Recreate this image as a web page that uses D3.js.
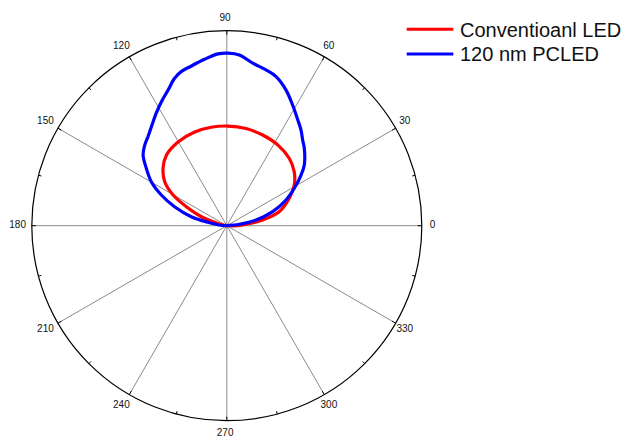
<!DOCTYPE html>
<html>
<head>
<meta charset="utf-8">
<script src="https://cdn.jsdelivr.net/npm/d3@7"></script>
<style>
  html, body { margin: 0; padding: 0; background: #fff; }
  svg { display: block; }
  text { font-family: "Liberation Sans", Arial, Helvetica, sans-serif; fill: #111; }
</style>
</head>
<body>
<svg id="chart" width="625" height="437"></svg>
<script>
// Polar angles in degrees (counter-clockwise from 0 at the right) and relative intensity
const conventionalAngles = [0, 0, 4.2, 9, 14.9, 23.7, 31.1, 38.7, 47.2, 57.8, 68.4, 78.8, 89.3, 99, 108.9, 120, 130.6, 138, 144.7, 150.3, 154.9, 160.6, 164.3, 170, 180];
const conventionalValues = [0, 0.057, 0.099, 0.186, 0.278, 0.350, 0.404, 0.443, 0.471, 0.490, 0.500, 0.508, 0.511, 0.511, 0.508, 0.497, 0.476, 0.440, 0.390, 0.317, 0.229, 0.138, 0.065, 0.020, 0];

const pcledAngles = [0, 6.4, 11, 17, 23.5, 29, 34.3, 38.1, 45, 48.5, 52.2, 56.1, 61.4, 66.4, 71.7, 75.9, 80.9, 85.8, 89.6, 92.9, 97.6, 102.5, 106.5, 109.5, 113.4, 117.8, 122.1, 127.3, 131.5, 135.5, 139.8, 144.5, 149.8, 154.9, 160, 165.8, 169.7, 175, 180];
const pcledValues = [0, 0.065, 0.153, 0.246, 0.331, 0.396, 0.461, 0.505, 0.562, 0.587, 0.621, 0.653, 0.705, 0.759, 0.805, 0.824, 0.844, 0.878, 0.885, 0.882, 0.861, 0.839, 0.824, 0.802, 0.758, 0.719, 0.681, 0.638, 0.610, 0.590, 0.562, 0.507, 0.448, 0.371, 0.285, 0.188, 0.098, 0.040, 0];

const angleTicks = [0, 30, 60, 90, 120, 150, 180, 210, 240, 270, 300, 330];
const seriesNames = ["Conventioanl LED", "120 nm PCLED"];
const seriesColors = ["#ff0000", "#0000ff"];

const svg = d3.select("#chart");
const cx = 226.8, cy = 225.7, R = 195;

const rScale = d3.scaleLinear().domain([0, 1]).range([0, R]);
// d3 radial angles run clockwise from 12 o'clock
const aScale = d3.scaleLinear().domain([0, 360]).range([Math.PI / 2, Math.PI / 2 - 2 * Math.PI]);

const g = svg.append("g").attr("transform", `translate(${cx},${cy})`);

const px = (deg, r) => r * Math.cos(deg * Math.PI / 180);
const py = (deg, r) => -r * Math.sin(deg * Math.PI / 180);

// spokes
g.selectAll("line.spoke")
  .data(angleTicks)
  .join("line")
  .attr("class", "spoke")
  .attr("x1", 0).attr("y1", 0)
  .attr("x2", d => px(d, R)).attr("y2", d => py(d, R))
  .attr("stroke", "#8a8a8a")
  .attr("stroke-width", 1);

// outer circle
g.append("circle")
  .attr("r", R)
  .attr("fill", "none")
  .attr("stroke", "#000")
  .attr("stroke-width", 1.2);

// tick marks every 15 degrees
const tickAngles = d3.range(0, 360, 15);
g.selectAll("line.tick")
  .data(tickAngles)
  .join("line")
  .attr("class", "tick")
  .attr("x1", d => px(d, R)).attr("y1", d => py(d, R))
  .attr("x2", d => px(d, R - (d % 30 === 0 ? 4 : 3))).attr("y2", d => py(d, R - (d % 30 === 0 ? 4 : 3)))
  .attr("stroke", "#000")
  .attr("stroke-width", 1);

// angle labels
g.selectAll("text.alabel")
  .data(angleTicks)
  .join("text")
  .attr("class", "alabel")
  .attr("x", d => px(d, R + 12.5) - 1.7)
  .attr("y", d => py(d, R + 12.5) - 1)
  .attr("dy", "0.35em")
  .attr("text-anchor", "middle")
  .attr("font-size", 10)
  .text(d => d);

// series curves
const radial = d3.lineRadial()
  .angle(d => aScale(d[0]))
  .radius(d => rScale(d[1]))
  .curve(d3.curveCatmullRom.alpha(0.5));

const series = [
  d3.zip(conventionalAngles, conventionalValues),
  d3.zip(pcledAngles, pcledValues)
];

g.selectAll("path.series")
  .data(series)
  .join("path")
  .attr("class", "series")
  .attr("d", d => radial(d))
  .attr("fill", "none")
  .attr("stroke", (d, i) => seriesColors[i])
  .attr("stroke-width", 3.2)
  .attr("stroke-linejoin", "round")
  .attr("stroke-linecap", "round");

// legend
const legend = svg.append("g");
const legendY = [29.3, 54];
seriesNames.forEach((name, i) => {
  legend.append("line")
    .attr("x1", 406.7).attr("x2", 453.3)
    .attr("y1", legendY[i]).attr("y2", legendY[i])
    .attr("stroke", seriesColors[i])
    .attr("stroke-width", 3);
  legend.append("text")
    .attr("x", 460)
    .attr("y", legendY[i])
    .attr("dy", "0.36em")
    .attr("font-size", 20)
    .text(name);
});
</script>
</body>
</html>
